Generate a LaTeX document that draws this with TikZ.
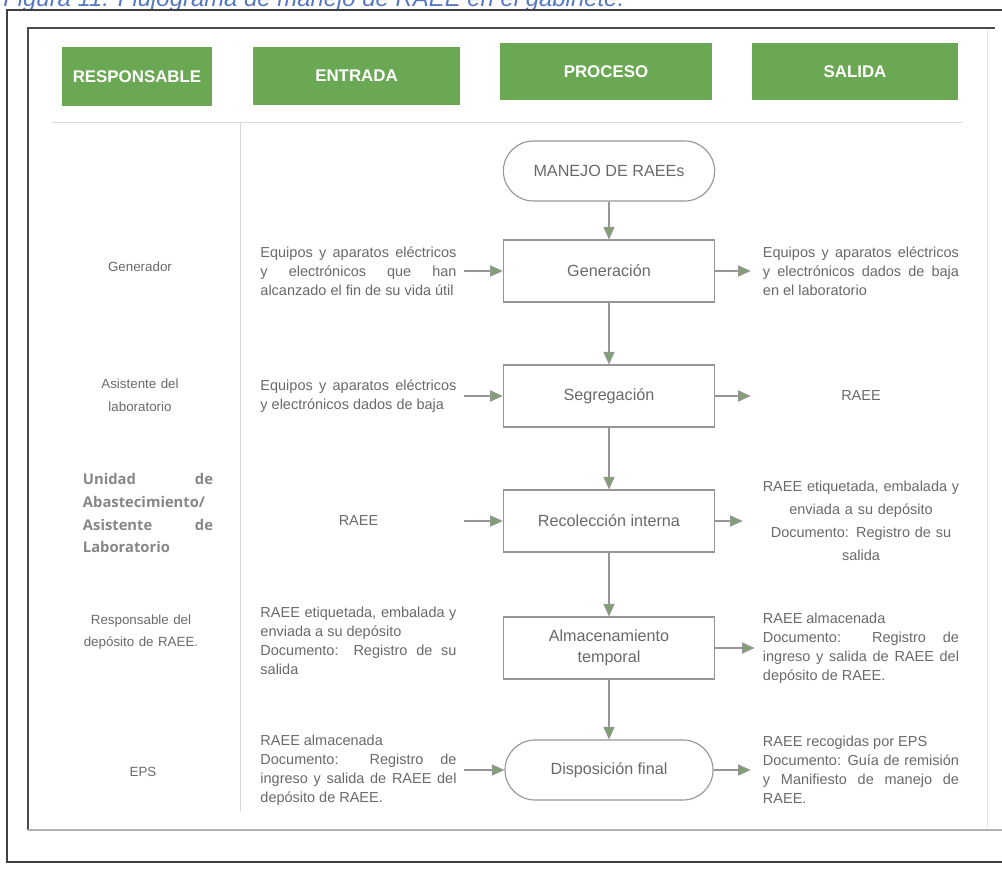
\documentclass[tikz,border=0pt]{standalone}
\usepackage{fontspec}
\setmainfont{Liberation Sans}
\newfontfamily\opensans{Open Sans}
\usetikzlibrary{arrows.meta,positioning}
\definecolor{verdecab}{RGB}{106,168,84}
\definecolor{grisTexto}{RGB}{105,105,105}
\definecolor{grisLinea}{RGB}{150,150,150}
\definecolor{puntaFlecha}{RGB}{128,160,112}
\definecolor{azulTitulo}{RGB}{84,120,196}
\hyphenpenalty=10000
\exhyphenpenalty=10000
\tolerance=9999
\hbadness=10000

\begin{document}
\begin{tikzpicture}[x=0.025cm, y=-0.025cm,
	cabecera/.style={fill=verdecab, text=white, font=\bfseries\fontsize{12}{14}\selectfont, inner sep=0pt},
	proceso/.style={draw=grisLinea, line width=0.8pt, minimum width=5.28cm, minimum height=1.55cm, align=center, text=grisTexto, font=\fontsize{11.5}{15}\selectfont, inner sep=0pt},
	terminal/.style={proceso, rounded corners=0.75cm, minimum height=1.5cm},
	textoES/.style={text width=4.9cm, align=justify, text=grisTexto, font=\fontsize{10.3}{13.5}\selectfont, inner sep=0pt},
	resp/.style={text width=3.25cm, align=center, text=grisTexto, font=\fontsize{9.5}{16.3}\selectfont, inner sep=0pt},
	flecha/.style={draw=grisLinea, line width=0.8pt, -{Triangle[length=9pt,width=8pt,fill=puntaFlecha]}}]
			\useasboundingbox (0,0) rectangle (1002,869);
			\clip (0,0) rectangle (1002,869);
			
			% titulo y marcos
			\node[anchor=base west, inner sep=0pt, text=azulTitulo, font=\itshape\fontsize{17}{20}\selectfont] (titulo) at (3,6) {Figura 11. Flujograma de manejo de RAEE en el gabinete.};
			\draw[black!75, line width=1.2pt] (1010,10) -- (7,10) -- (7,862) -- (1010,862);
			\draw[black!70, line width=1pt] (995,28) -- (28,28) -- (28,830);
			\draw[gray!60, line width=0.8pt] (28,830) -- (1010,830);
			\draw[gray!20] (987,30) -- (987,828);
			\draw[gray!30, line width=0.6pt] (52,122) -- (962,122);
			\draw[gray!30, line width=0.6pt] (240,122) -- (240,812);
			
			% cabeceras
			\node[cabecera, minimum width=3.75cm, minimum height=1.475cm] (cResp) at (137,76.5) {RESPONSABLE};
			\node[cabecera, minimum width=5.175cm, minimum height=1.45cm] (cEntrada) at (356.5,76) {ENTRADA};
			\node[cabecera, minimum width=5.3cm, minimum height=1.425cm] (cProceso) at (606,71.5) {PROCESO};
			\node[cabecera, minimum width=5.15cm, minimum height=1.425cm] (cSalida) at (855,71.5) {SALIDA};
			
			% proceso
			\node[terminal] (inicio) at (609,171) {MANEJO DE RAEEs};
			\node[proceso] (gen) at (609,271) {Generación};
			\node[proceso] (seg) at (609,396) {Segregación};
			\node[proceso] (rec) at (609,521) {Recolección interna};
			\node[proceso] (alm) at (609,648) {Almacenamiento\\temporal};
			\node[terminal, minimum width=5.2cm] (disp) at (609,770) {Disposición final};
			
			\draw[flecha] (inicio) -- (gen);
			\draw[flecha] (gen) -- (seg);
			\draw[flecha] (seg) -- (rec);
			\draw[flecha] (rec) -- (alm);
			\draw[flecha] (alm) -- (disp);
			
			% responsables
			\node[resp] (r1) at (140,267) {Generador};
			\node[resp] (r2) at (140,395) {Asistente del\\ laboratorio};
			\node[resp, align=justify, text=gray!95, font=\opensans\bfseries\fontsize{10.5}{16.3}\selectfont] (r3) at (148,513) {Unidad de Abastecimiento/ Asistente de Laboratorio};
			\node[resp] (r4) at (141,632) {Responsable del\\ depósito de RAEE.};
			\node[resp] (r5) at (143,772) {EPS};
			
			% entradas
			\node[textoES] (e1) at (358.5,271) {Equipos y aparatos eléctricos y electrónicos que han alcanzado el fin de su vida útil};
			\node[textoES] (e2) at (358.5,396) {Equipos y aparatos eléctricos\linebreak y electrónicos dados de baja};
			\node[textoES, align=center] (e3) at (358.5,521) {RAEE};
			\node[textoES] (e4) at (358.5,641) {RAEE etiquetada, embalada y enviada a su depósito\\ Documento: Registro de su salida};
			\node[textoES] (e5) at (358.5,770) {RAEE almacenada\\ Documento: Registro de ingreso y salida de RAEE del depósito de RAEE.};
			
			% salidas
			\node[textoES] (s1) at (861,271) {Equipos y aparatos eléctricos\linebreak y electrónicos dados de baja en el laboratorio};
			\node[textoES, align=center] (s2) at (861,396) {RAEE};
			\node[textoES, text width=5.2cm, align=center, font=\fontsize{10.3}{16.3}\selectfont] (s3) at (861,521) {RAEE etiquetada, embalada y\\ enviada a su depósito\\ Documento: Registro de su\\ salida};
			\node[textoES] (s4) at (861,648) {RAEE almacenada\\ Documento: Registro de ingreso y salida de RAEE del depósito de RAEE.};
			\node[textoES] (s5) at (861,770) {RAEE recogidas por EPS\\ Documento: Guía de remisión y Manifiesto de manejo de RAEE.};
			
			\draw[flecha, shorten <=0.18cm] (e1) -- (gen);
			\draw[flecha, shorten <=0.18cm] (e2) -- (seg);
			\draw[flecha, shorten <=0.18cm] (e3) -- (rec);
			\draw[flecha, shorten <=0.18cm] (e5) -- (disp);
			\draw[flecha, shorten >=0.3cm] (gen) -- (s1);
			\draw[flecha, shorten >=0.3cm] (seg) -- (s2);
			\draw[flecha, shorten >=0.35cm] (rec) -- (s3);
			\draw[flecha, shorten >=0.2cm] (alm) -- (s4);
			\draw[flecha, shorten >=0.3cm] (disp) -- (s5);
			
		\end{tikzpicture}
\end{document}
